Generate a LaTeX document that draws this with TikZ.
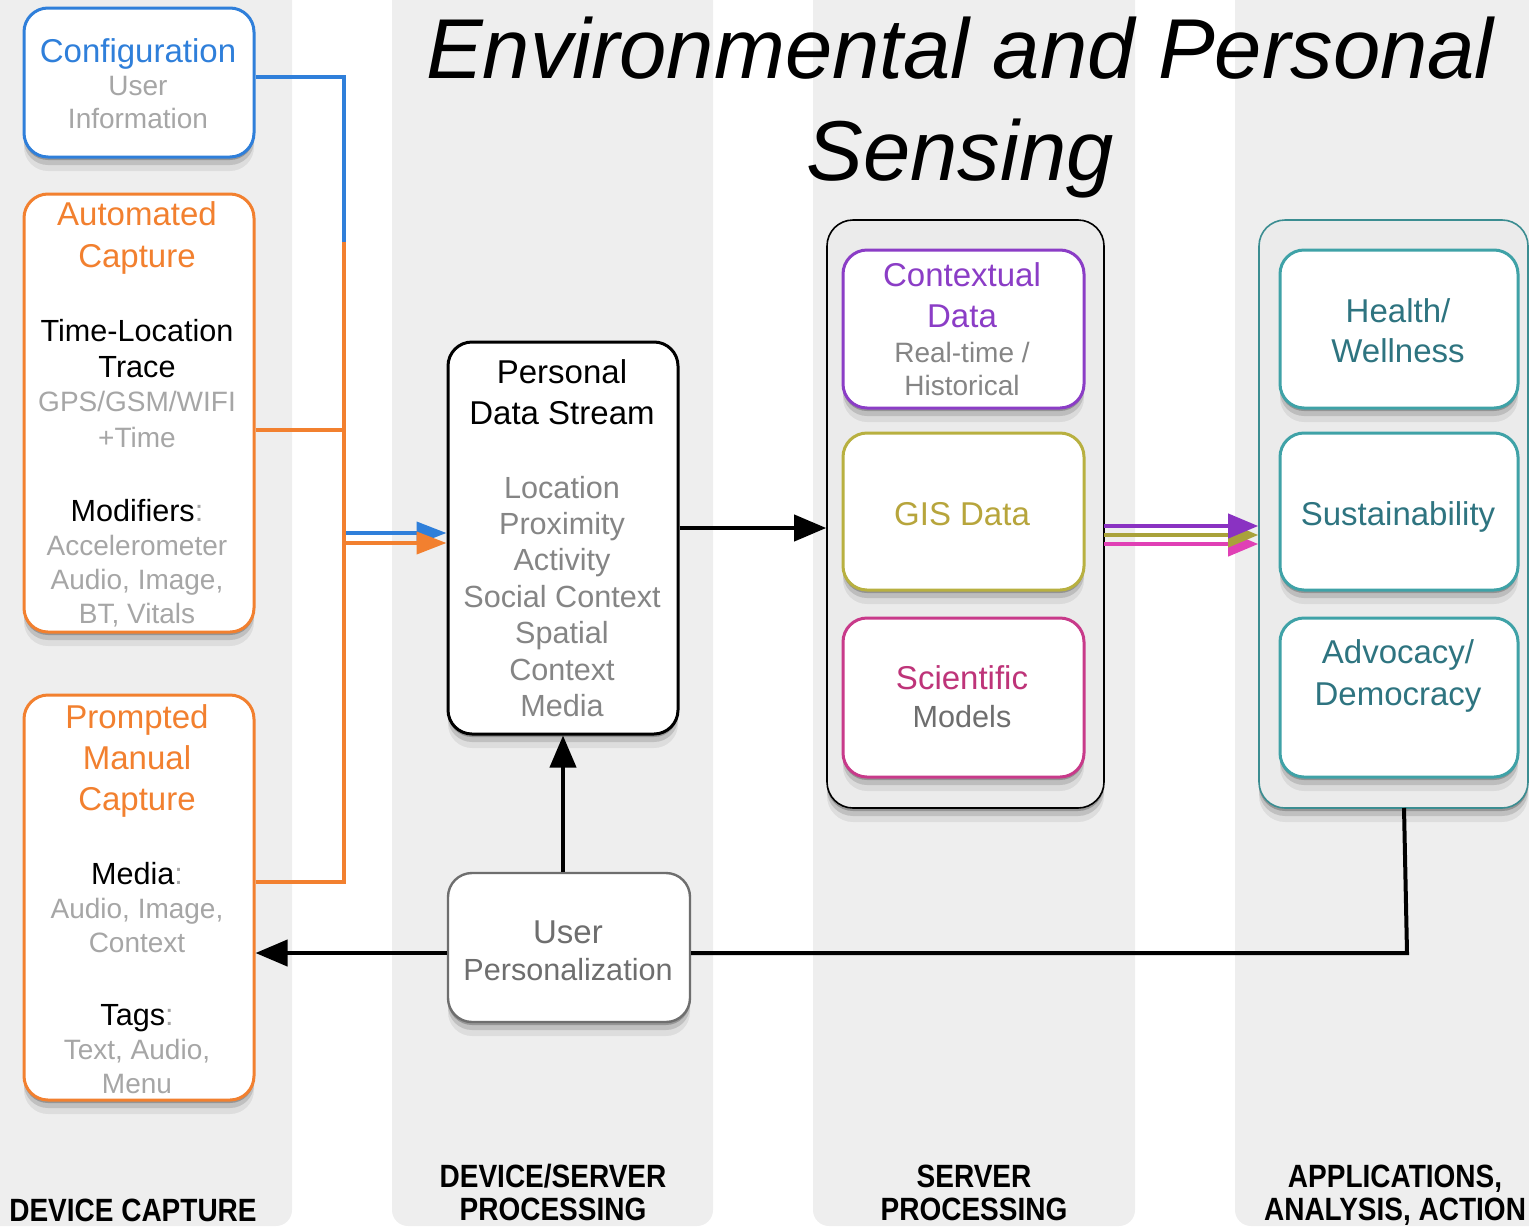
\documentclass[tikz,border=0pt]{standalone}
\usepackage{fontspec}
\setmainfont{Liberation Sans}
\usetikzlibrary{arrows.meta,shadows}

\newcommand\setpx[1]{\fontsize{#1pt}{#1pt}\selectfont}
\newcommand\placetext[5]{\node[tline,#2] (#1) at (#3,#4) {#5};}

\definecolor{lanegray}{HTML}{EEEEEE}
\definecolor{boxgray}{HTML}{EBEBEB}
\definecolor{cfgblue}{HTML}{2F7FDA}
\definecolor{capor}{HTML}{F2802F}
\definecolor{softgray}{HTML}{A6A6A6}
\definecolor{midgray}{HTML}{858585}
\definecolor{ctxpurple}{HTML}{8B3DC6}
\definecolor{gisolive}{HTML}{B8B040}
\definecolor{gistext}{HTML}{B7A53C}
\definecolor{scimag}{HTML}{C83A8A}
\definecolor{scitext}{HTML}{BE3479}
\definecolor{appteal}{HTML}{3FA2A7}
\definecolor{apptext}{HTML}{2E7480}
\definecolor{contteal}{HTML}{3B8D91}
\definecolor{arrpink}{HTML}{E040B5}
\definecolor{arrolive}{HTML}{A9A23A}
\definecolor{arrpurple}{HTML}{8A32C2}
\definecolor{upgray}{HTML}{6E6E6E}

\tikzset{
  softshadow/.style={
    drop shadow={shadow xshift=0pt,shadow yshift=-1.5pt,opacity=.22,fill=black},
    drop shadow={shadow xshift=0pt,shadow yshift=-4pt,opacity=.13,fill=black},
    drop shadow={shadow xshift=0pt,shadow yshift=-7pt,opacity=.07,fill=black}},
  card/.style={draw,fill=white,line width=1.5pt,rounded corners=12pt,
    inner sep=0pt,softshadow},
  holder/.style={draw,fill=boxgray,line width=.8pt,rounded corners=13pt,
    inner sep=0pt,softshadow},
  tline/.style={anchor=base,inner sep=0pt},
  big/.style={font=\setpx{16.5}},
  mid/.style={font=\setpx{15.3}},
  small/.style={font=\setpx{14}},
  lanelabel/.style={anchor=base,inner sep=0pt,font=\bfseries\setpx{14}},
  wire/.style={line width=2pt},
  blackarrow/.style={wire,-{Triangle[length=16pt,width=13pt]}},
  feedarrow/.style={wire,-{Triangle[length=15pt,width=11pt]}},
}

\begin{document}
\begin{tikzpicture}[x=0.5pt,y=-0.5pt]
\useasboundingbox (0,0) rectangle (1529,1226);

% swim lanes
\fill[lanegray,rounded corners=8pt] (-40,-40) rectangle (292,1226);
\fill[lanegray,rounded corners=8pt] (392,-40) rectangle (713,1226);
\fill[lanegray,rounded corners=8pt] (813,-40) rectangle (1135,1226);
\fill[lanegray,rounded corners=8pt] (1235,-40) rectangle (1580,1226);

% title
\node[tline,font=\itshape\setpx{42.5}] (title1) at (960,78) {Environmental and Personal};
\node[tline,font=\itshape\setpx{42.5}] (title2) at (960,180) {Sensing};

% group holders
\node[holder,draw=black,minimum width=138.5pt,minimum height=294pt] (srv) at (965.5,514) {};
\node[holder,draw=contteal,minimum width=134.5pt,minimum height=294pt] (apps) at (1393.5,514) {};

% boxes
\node[card,draw=cfgblue,minimum width=115pt,minimum height=74.5pt] (cfg) at (139,82.5) {};
\node[card,draw=capor,minimum width=115pt,minimum height=219pt] (auto) at (139,413) {};
\node[card,draw=capor,minimum width=115pt,minimum height=202.5pt] (prm) at (139,897.5) {};
\node[card,draw=black,minimum width=115pt,minimum height=196pt] (pds) at (563,538) {};
\node[card,draw=upgray,line width=1.2pt,minimum width=121pt,minimum height=74.5pt] (up) at (569,947.5) {};
\node[card,draw=ctxpurple,minimum width=120.5pt,minimum height=79pt] (ctx) at (963.5,329) {};
\node[card,draw=gisolive,minimum width=120.5pt,minimum height=78.5pt] (gis) at (963.5,511.5) {};
\node[card,draw=scimag,minimum width=120.5pt,minimum height=79.5pt] (sci) at (963.5,697.5) {};
\node[card,draw=appteal,minimum width=119pt,minimum height=79pt] (hlth) at (1399,329) {};
\node[card,draw=appteal,minimum width=119pt,minimum height=78.5pt] (sust) at (1399,511.5) {};
\node[card,draw=appteal,minimum width=119pt,minimum height=79.5pt] (advo) at (1399,697.5) {};

% capture bus into the personal data stream
\coordinate (bustop) at (344,242);
\coordinate (cfgout) at ([yshift=2.75pt]cfg.east);
\coordinate (autoout) at ([yshift=-8.5pt]auto.east);
\coordinate (prmout) at ([yshift=7.75pt]prm.east);
\coordinate (pdsin1) at ([yshift=2.5pt]pds.west);
\coordinate (pdsin2) at ([yshift=-2.5pt]pds.west);
\draw[feedarrow,cfgblue] (cfgout) -| (bustop |- pdsin1) -- (pdsin1);
\draw[wire,capor] (prmout) -| (bustop);
\draw[wire,capor] (autoout) -- (autoout -| bustop);
\draw[feedarrow,capor] (bustop |- pdsin2) -- (pdsin2);

% stream to server
\coordinate (pdsout) at ([yshift=5pt]pds.east);
\draw[blackarrow] (pdsout) -- (pdsout -| srv.west);

% personalization up into the stream
\draw[blackarrow] (pds.south |- up.north) -- (pds.south);

% server to applications
\coordinate (out1) at (1104,526);
\coordinate (out2) at (1104,535);
\coordinate (out3) at (1104,544);
\draw[wire,arrpink,-{Triangle[length=15pt,width=12pt]}] (out3) -- (out3 -| apps.west);
\draw[wire,arrolive,-{Triangle[length=15pt,width=12pt]}] (out2) -- (out2 -| apps.west);
\draw[wire,arrpurple,-{Triangle[length=15pt,width=12pt]}] (out1) -- (out1 -| apps.west);

% feedback loop
\coordinate (ret) at (1407,953);
\draw[wire] (1404,808) -- (ret) -- (ret -| up.east);
\draw[blackarrow] (ret -| up.west) -- (ret -| prm.east);

% texts: configuration
\placetext{cfg1}{big,cfgblue}{138}{62}{Configuration}
\placetext{cfg2}{small,softgray}{138}{95}{User}
\placetext{cfg3}{small,softgray}{138}{128}{Information}

% texts: automated capture
\placetext{au1}{big,capor}{137}{225}{Automated}
\placetext{au2}{big,capor}{137}{267}{Capture}
\placetext{au3}{mid}{137}{341}{Time-Location}
\placetext{au4}{mid}{137}{377}{Trace}
\placetext{au5}{small,softgray}{137}{411}{GPS/GSM/WIFI}
\placetext{au6}{small,softgray}{137}{447}{+Time}
\placetext{au7}{mid}{137}{521}{Modifiers\textcolor{softgray}{:}}
\placetext{au8}{small,softgray}{137}{555}{Accelerometer}
\placetext{au9}{small,softgray}{137}{589}{Audio, Image,}
\placetext{au10}{small,softgray}{137}{623}{BT, Vitals}

% texts: prompted manual capture
\placetext{pm1}{big,capor}{137}{728}{Prompted}
\placetext{pm2}{big,capor}{137}{769}{Manual}
\placetext{pm3}{big,capor}{137}{810}{Capture}
\placetext{pm4}{mid}{137}{884}{Media\textcolor{softgray}{:}}
\placetext{pm5}{small,softgray}{137}{918}{Audio, Image,}
\placetext{pm6}{small,softgray}{137}{952}{Context}
\placetext{pm7}{mid}{137}{1025}{Tags\textcolor{softgray}{:}}
\placetext{pm8}{small,softgray}{137}{1059}{Text, Audio,}
\placetext{pm9}{small,softgray}{137}{1093}{Menu}

% texts: personal data stream
\placetext{ps1}{big}{562}{383}{Personal}
\placetext{ps2}{big}{562}{424}{Data Stream}
\placetext{ps3}{mid,midgray}{562}{498}{Location}
\placetext{ps4}{mid,midgray}{562}{534}{Proximity}
\placetext{ps5}{mid,midgray}{562}{570}{Activity}
\placetext{ps6}{mid,midgray}{562}{607}{Social Context}
\placetext{ps7}{mid,midgray}{562}{643}{Spatial}
\placetext{ps8}{mid,midgray}{562}{680}{Context}
\placetext{ps9}{mid,midgray}{562}{716}{Media}

% texts: user personalization
\placetext{up1}{big,upgray}{568}{943}{User}
\placetext{up2}{mid,upgray}{568}{980}{Personalization}

% texts: server side
\placetext{cx1}{big,ctxpurple}{962}{286}{Contextual}
\placetext{cx2}{big,ctxpurple}{962}{327}{Data}
\placetext{cx3}{small,midgray}{962}{362}{Real-time /}
\placetext{cx4}{small,midgray}{962}{395}{Historical}
\placetext{gs1}{big,gistext}{962}{525}{GIS Data}
\placetext{sc1}{big,scitext}{962}{689}{Scientific}
\placetext{sc2}{mid,upgray}{962}{727}{Models}

% texts: applications
\placetext{ap1}{big,apptext}{1398}{322}{Health/}
\placetext{ap2}{big,apptext}{1398}{362}{Wellness}
\placetext{ap3}{big,apptext}{1398}{525}{Sustainability}
\placetext{ap4}{big,apptext}{1398}{663}{Advocacy/}
\placetext{ap5}{big,apptext}{1398}{705}{Democracy}

% lane labels
\node[lanelabel] (lab1) at (133,1221) {\scalebox{1}[1.15]{DEVICE CAPTURE}};
\node[lanelabel] (lab2a) at (553,1187) {\scalebox{1}[1.15]{DEVICE/SERVER}};
\node[lanelabel] (lab2b) at (553,1220) {\scalebox{1}[1.15]{PROCESSING}};
\node[lanelabel] (lab3a) at (974,1187) {\scalebox{1}[1.15]{SERVER}};
\node[lanelabel] (lab3b) at (974,1220) {\scalebox{1}[1.15]{PROCESSING}};
\node[lanelabel] (lab4a) at (1395,1187) {\scalebox{1}[1.15]{APPLICATIONS,}};
\node[lanelabel] (lab4b) at (1395,1220) {\scalebox{1}[1.15]{ANALYSIS, ACTION}};
\end{tikzpicture}
\end{document}
